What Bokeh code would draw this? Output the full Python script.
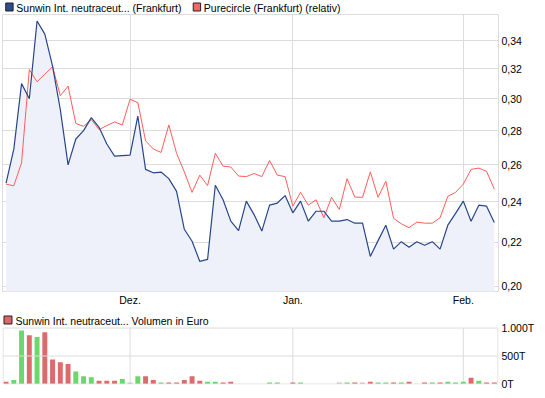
from bokeh.plotting import figure
from bokeh.models import Range1d, FixedTicker, CustomJSTickFormatter, Span
from bokeh.layouts import column
from bokeh.embed import file_html
from bokeh.resources import INLINE
from bokeh.core.properties import value

# ---------------- data ----------------
sunwin = [0.250, 0.269, 0.310, 0.300, 0.355, 0.345, 0.322, 0.293, 0.260, 0.275,
          0.280, 0.288, 0.282, 0.272, 0.265, 0.2653, 0.2656, 0.289, 0.2575, 0.2556,
          0.256, 0.2524, 0.2455, 0.2262, 0.2204, 0.211, 0.2119, 0.2488, 0.2411, 0.2302,
          0.2255, 0.2404, 0.2335, 0.2253, 0.2383, 0.2394, 0.2433, 0.2344, 0.2404, 0.2302,
          0.2352, 0.2352, 0.2302, 0.2302, 0.2310, 0.2292, 0.2292, 0.2133, 0.2207, 0.2282,
          0.2167, 0.2202, 0.2176, 0.2202, 0.2185, 0.2202, 0.2167, 0.2282, 0.2341, 0.2404,
          0.2302, 0.2383, 0.2378, 0.2295]

purecircle = [0.2494, 0.2485, 0.2612, 0.3195, 0.3112, 0.3164, 0.3215, 0.3020, 0.3083, 0.2844,
              0.2826, 0.2868, 0.2806, 0.2831, 0.2853, 0.2835, 0.2997, 0.2975, 0.2739, 0.2691,
              0.2671, 0.2835, 0.2666, 0.2561, 0.2450, 0.2543, 0.2486, 0.2666, 0.2593, 0.2588,
              0.2538, 0.2535, 0.2552, 0.2535, 0.2625, 0.2543, 0.2535, 0.2378, 0.2450, 0.2383,
              0.2411, 0.2319, 0.2424, 0.2361, 0.2524, 0.2425, 0.2424, 0.2561, 0.2424, 0.2510,
              0.2316, 0.2289, 0.2270, 0.2297, 0.2292, 0.2292, 0.2319, 0.2429, 0.2450, 0.2494,
              0.2575, 0.2582, 0.2564, 0.2467]

volume_t = [40, 72, 956, 872, 839, 922, 439, 389, 356, 222,
            139, 122, 56, 56, 56, 89, 28, 139, 139, 72,
            28, 28, 28, 72, 139, 56, 42, 42, 28, 42,
            0, 0, 0, 0, 28, 28, 0, 28, 28, 0,
            0, 0, 0, 28, 28, 28, 28, 42, 28, 28,
            28, 28, 42, 0, 28, 28, 28, 42, 28, 42,
            111, 56, 28, 28]

vol_direction = ["down", "up", "up", "down", "up", "down", "down", "down", "down", "up",
                 "up", "up", "down", "down", "down", "up", "flat", "up", "down", "down",
                 "up", "down", "down", "down", "down", "down", "up", "up", "down", "down",
                 "flat", "flat", "flat", "flat", "up", "up", "up", "down", "up", "flat",
                 "flat", "flat", "flat", "flat", "up", "down", "flat", "down", "up", "up",
                 "down", "up", "down", "flat", "down", "up", "down", "up", "up", "up",
                 "down", "up", "down", "down"]

month_ticks = [16, 37, 59]
month_labels = ["Dez.", "Jan.", "Feb."]
price_ticks = [0.20, 0.22, 0.24, 0.26, 0.28, 0.30, 0.32, 0.34]
price_labels = ["0,20", "0,22", "0,24", "0,26", "0,28", "0,30", "0,32", "0,34"]
volume_ticks = [0, 500, 1000]
volume_labels = ["0T", "500T", "1.000T"]
series_names = ["Sunwin Int. neutraceut... (Frankfurt)", "Purecircle (Frankfurt) (relativ)"]
volume_name = "Sunwin Int. neutraceut... Volumen in Euro"

# ---------------- style ----------------
FONT = "Liberation Sans"
FS = "10.5px"
W = 537
BORDER_L, BORDER_R = 2, 37
FRAME_W = W - BORDER_L - BORDER_R
GRID = "#dcdcdc"
BLUE = "#27468a"
RED = "#ff5c5c"
FILL = "#eef1f9"
BAR_COLORS = {"up": "#6ad86a", "down": "#de6b6b", "flat": "#c4c4c4"}

x = list(range(len(sunwin)))
x_range = Range1d(-0.46, 63.54)


def fmt(tick_values, tick_labels):
    return CustomJSTickFormatter(
        args=dict(tvals=tick_values, tlabs=tick_labels),
        code="const k = tvals.indexOf(tick); return k < 0 ? '' : tlabs[k];")


def style_axis(ax, standoff=3):
    ax.axis_line_color = None
    ax.major_tick_line_color = None
    ax.minor_tick_line_color = None
    ax.major_tick_in = 0
    ax.major_tick_out = 0
    ax.minor_tick_in = 0
    ax.minor_tick_out = 0
    ax.major_label_text_font = FONT
    ax.major_label_text_font_size = FS
    ax.major_label_text_color = "#000000"
    ax.major_label_standoff = standoff


# ---------------- legend row of the price chart ----------------
LEG_H = 14
leg1 = figure(width=W, height=LEG_H, x_range=Range1d(0, W), y_range=Range1d(LEG_H, 0),
              x_axis_type=None, y_axis_type=None, output_backend="svg",
              toolbar_location=None, min_border=0)
leg1.outline_line_color = None
leg1.rect(x=[7.5, 210.5], y=[6.5, 6.5], width=8, height=8,
          fill_color=["#2d4c8c", "#ff6464"], line_color="#222222")
leg1.text(x=[15, 218], y=[7, 7], text=series_names, text_font=value(FONT),
          text_font_size=FS, text_baseline="middle", text_color="#000000")

# ---------------- price chart ----------------
p = figure(width=W, height=294, x_range=x_range, y_range=Range1d(0.1977, 0.36),
           y_axis_type="log", y_axis_location="right", output_backend="svg",
           toolbar_location=None, min_border_left=BORDER_L, min_border_right=BORDER_R,
           min_border_top=0, min_border_bottom=15)
p.outline_line_color = GRID
p.varea(x=x, y1=0.19, y2=sunwin, fill_color=FILL)
p.line(x, purecircle, line_color=RED, line_width=1)
p.line(x, sunwin, line_color=BLUE, line_width=1.2)
p.xaxis.ticker = FixedTicker(ticks=month_ticks)
p.xaxis.formatter = fmt(month_ticks, month_labels)
p.yaxis.ticker = FixedTicker(ticks=price_ticks)
p.yaxis.formatter = fmt(price_ticks, price_labels)
style_axis(p.xaxis[0], 2)
style_axis(p.yaxis[0], 3)
p.xgrid.grid_line_color = GRID
p.ygrid.grid_line_color = GRID

# ---------------- volume chart (with its legend row inside) ----------------
V_H = 82
V_BOTTOM = 6
FRAME_H = V_H - V_BOTTOM
TOP_REL, BASE_REL = 19.5, 75.5          # pixel rows of 1000T and 0T inside the frame
upp = volume_ticks[-1] / (BASE_REL - TOP_REL)
v = figure(width=W, height=V_H, x_range=x_range,
           y_range=Range1d(-(FRAME_H - BASE_REL) * upp, volume_ticks[-1] + TOP_REL * upp),
           y_axis_location="right", output_backend="svg", toolbar_location=None,
           min_border_left=BORDER_L, min_border_right=BORDER_R,
           min_border_top=0, min_border_bottom=V_BOTTOM)
v.outline_line_color = None
v.xaxis.visible = False
v.xgrid.visible = False
v.ygrid.visible = False
v.extra_x_ranges = {"px": Range1d(0, FRAME_W)}
v.extra_y_ranges = {"px": Range1d(FRAME_H, 0)}

# grid of the volume panel
v.segment(x0=month_ticks, y0=volume_ticks[0], x1=month_ticks, y1=volume_ticks[-1],
          line_color=GRID, line_width=1)
v.add_layout(Span(location=volume_ticks[1], dimension="width", line_color=GRID, line_width=1))

bar_colors = [BAR_COLORS[d] for d in vol_direction]
v.vbar(x=x, top=volume_t, width=0.64, fill_color=bar_colors, line_color=None)

# panel border
v.quad(left=0.5, right=FRAME_W - 0.5, top=TOP_REL, bottom=BASE_REL,
       fill_color=None, line_color=GRID, line_width=1,
       x_range_name="px", y_range_name="px")

# legend of the volume panel
v.rect(x=[5.5], y=[11.5], width=8, height=8, fill_color="#dd6666", line_color="#222222",
       x_range_name="px", y_range_name="px")
v.text(x=[13], y=[12], text=[volume_name], text_font=value(FONT), text_font_size=FS,
       text_baseline="middle", text_color="#000000", x_range_name="px", y_range_name="px")

v.yaxis.ticker = FixedTicker(ticks=volume_ticks)
v.yaxis.formatter = fmt(volume_ticks, volume_labels)
style_axis(v.yaxis[0], 3)

layout = column(leg1, p, v)
open("out.html", "w").write(file_html(layout, INLINE))
